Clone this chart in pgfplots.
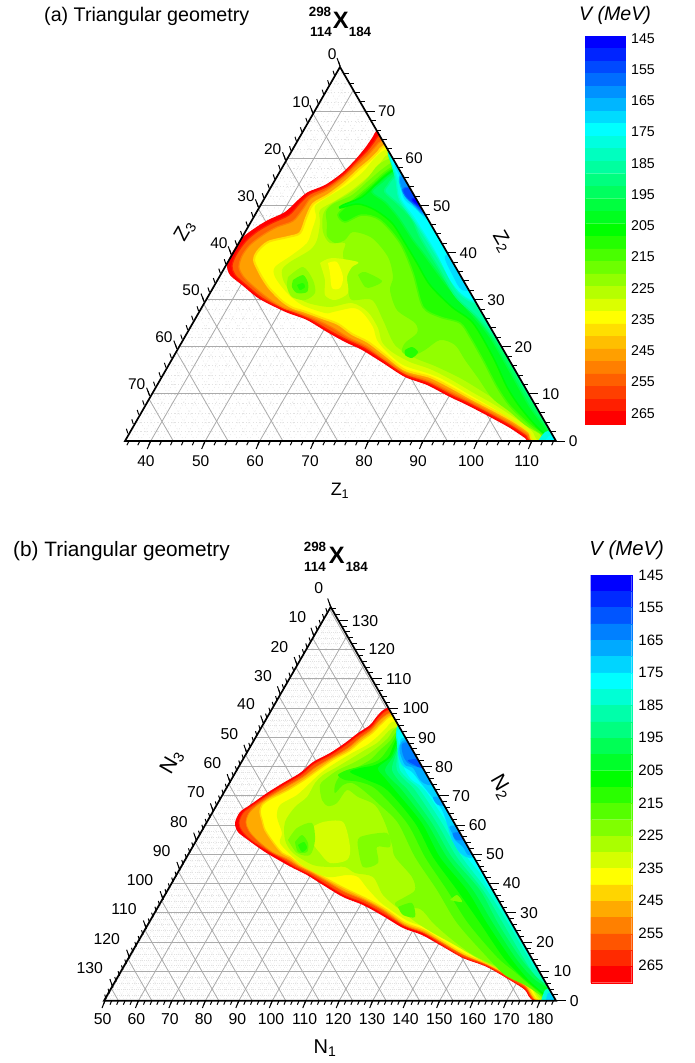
\documentclass[border=0pt]{standalone}
\usepackage{pgfplots}
\pgfplotsset{compat=1.18}
\usepackage{fontspec}
\setmainfont{Liberation Sans}
\newcommand\fs[1]{\fontsize{#1}{#1}\selectfont}
% ---- panel (a) palette, 31 levels
\definecolor{a145}{HTML}{0000FF}\definecolor{a149}{HTML}{0024FF}\definecolor{a153}{HTML}{0049FF}\definecolor{a157}{HTML}{006DFF}
\definecolor{a161}{HTML}{0092FF}\definecolor{a165}{HTML}{00B6FF}\definecolor{a169}{HTML}{00DBFF}\definecolor{a173}{HTML}{00FFFF}
\definecolor{a177}{HTML}{00FFDF}\definecolor{a181}{HTML}{00FFBF}\definecolor{a185}{HTML}{00FF9F}\definecolor{a189}{HTML}{00FF7F}
\definecolor{a193}{HTML}{00FF5F}\definecolor{a197}{HTML}{00FF3F}\definecolor{a201}{HTML}{00FF1F}\definecolor{a205}{HTML}{00FF00}
\definecolor{a209}{HTML}{24FF00}\definecolor{a213}{HTML}{49FF00}\definecolor{a217}{HTML}{6DFF00}\definecolor{a221}{HTML}{92FF00}
\definecolor{a225}{HTML}{B6FF00}\definecolor{a229}{HTML}{DBFF00}\definecolor{a233}{HTML}{FFFF00}\definecolor{a237}{HTML}{FFDF00}
\definecolor{a241}{HTML}{FFBF00}\definecolor{a245}{HTML}{FF9F00}\definecolor{a249}{HTML}{FF7F00}\definecolor{a253}{HTML}{FF5F00}
\definecolor{a257}{HTML}{FF3F00}\definecolor{a261}{HTML}{FF1F00}\definecolor{a265}{HTML}{FF0000}
% ---- panel (b) palette, 25 levels
\definecolor{b145}{HTML}{0000FF}\definecolor{b150}{HTML}{002AFF}\definecolor{b155}{HTML}{0055FF}\definecolor{b160}{HTML}{0080FF}
\definecolor{b165}{HTML}{00AAFF}\definecolor{b170}{HTML}{00D5FF}\definecolor{b175}{HTML}{00FFFF}\definecolor{b180}{HTML}{00FFD5}
\definecolor{b185}{HTML}{00FFAA}\definecolor{b190}{HTML}{00FF80}\definecolor{b195}{HTML}{00FF55}\definecolor{b200}{HTML}{00FF2A}
\definecolor{b205}{HTML}{00FF00}\definecolor{b210}{HTML}{2AFF00}\definecolor{b215}{HTML}{55FF00}\definecolor{b220}{HTML}{80FF00}
\definecolor{b225}{HTML}{AAFF00}\definecolor{b230}{HTML}{D5FF00}\definecolor{b235}{HTML}{FFFF00}\definecolor{b240}{HTML}{FFD500}
\definecolor{b245}{HTML}{FFAA00}\definecolor{b250}{HTML}{FF8000}\definecolor{b255}{HTML}{FF5500}\definecolor{b260}{HTML}{FF2A00}
\definecolor{b265}{HTML}{FF0000}
\definecolor{gridc}{HTML}{ABABAB}
\definecolor{finec}{HTML}{E2E2E2}
\newcommand\poly[4]{\addplot[smooth,tension=0.5,fill=#1,draw=#2,line width=#3,forget plot] coordinates {#4};}
\newcommand\cellA[3]{\addplot[fill=#1,draw=#1,line width=.25pt,forget plot] coordinates {(585,#2)(625,#2)(625,#3)(585,#3)(585,#2)};}
\newcommand\cellB[3]{\addplot[fill=#1,draw=#1,line width=.25pt,forget plot] coordinates {(590.7,#2)(631.7,#2)(631.7,#3)(590.7,#3)(590.7,#2)};}
\begin{document}
\begin{tikzpicture}
\path[use as bounding box] (0,0) rectangle (694pt,1063pt);
\begin{axis}[at={(0pt,0pt)},anchor=south west,width=694pt,height=1063pt,scale only axis,
  xmin=0,xmax=694,ymin=0,ymax=1063,y dir=reverse,hide axis,clip=false]
% ======== background lattices
\pgfplotsextra{
 \begin{scope}
 \clip (axis cs:340,67)--(axis cs:556,441)--(axis cs:125,441)--cycle;
 \foreach \j in {1,...,39}{
  \pgfmathsetmacro\y{441-9.42*\j}
  \draw[finec,line width=.4pt,dash pattern=on 1.2pt off 2.2pt] (axis cs:120,\y)--(axis cs:560,\y);}
 \foreach \j in {-5,...,38}{
  \pgfmathsetmacro\x{150.7+10.89*\j}
  \pgfmathsetmacro\xx{\x+216}
  \draw[finec,line width=.4pt,dash pattern=on 1.2pt off 2.2pt] (axis cs:\x,441)--(axis cs:\xx,67);
  \pgfmathsetmacro\x{173.3+10.89*\j}
  \pgfmathsetmacro\xx{\x-216}
  \draw[finec,line width=.4pt,dash pattern=on 1.2pt off 2.2pt] (axis cs:\x,441)--(axis cs:\xx,67);}
 \foreach \k in {1,...,7}{
  \pgfmathsetmacro\y{441-47.1*\k}
  \draw[gridc,line width=.9pt] (axis cs:120,\y)--(axis cs:560,\y);}
 \foreach \k in {0,...,7}{
  \pgfmathsetmacro\x{150.7+54.5*\k}
  \pgfmathsetmacro\xx{\x+216}
  \draw[gridc,line width=.8pt] (axis cs:\x,441)--(axis cs:\xx,67);
  \pgfmathsetmacro\x{173.3+54.8*\k}
  \pgfmathsetmacro\xx{\x-216}
  \draw[gridc,line width=.8pt] (axis cs:\x,441)--(axis cs:\xx,67);}
 \end{scope}
 \begin{scope}
 \clip (axis cs:330.7,607)--(axis cs:556,1000.7)--(axis cs:104,1000.7)--cycle;
 \foreach \j in {1,...,67}{
  \pgfmathsetmacro\y{1000.7-5.854*\j}
  \draw[finec,line width=.4pt,dash pattern=on .8pt off 1.3pt] (axis cs:100,\y)--(axis cs:560,\y);}
 \foreach \j in {-5,...,70}{
  \pgfmathsetmacro\x{105+6.692*\j}
  \pgfmathsetmacro\xx{\x+225}
  \draw[finec,line width=.4pt,dash pattern=on .8pt off 1.3pt] (axis cs:\x,1000.7)--(axis cs:\xx,607);
  \pgfmathsetmacro\x{118.4+6.692*\j}
  \pgfmathsetmacro\xx{\x-225}
  \draw[finec,line width=.4pt,dash pattern=on .8pt off 1.3pt] (axis cs:\x,1000.7)--(axis cs:\xx,607);}
 \foreach \k in {1,...,12}{
  \pgfmathsetmacro\y{1000.7-29.27*\k}
  \draw[gridc,line width=.9pt] (axis cs:100,\y)--(axis cs:560,\y);}
 \foreach \k in {0,...,13}{
  \pgfmathsetmacro\x{105+33.46*\k}
  \pgfmathsetmacro\xx{\x+225}
  \draw[gridc,line width=.8pt] (axis cs:\x,1000.7)--(axis cs:\xx,607);
  \pgfmathsetmacro\x{118.4+33.46*\k}
  \pgfmathsetmacro\xx{\x-225}
  \draw[gridc,line width=.8pt] (axis cs:\x,1000.7)--(axis cs:\xx,607);}
 \end{scope}
}
% ======== panel (a) filled levels
\poly{a265}{none}{0pt}{(395,130)(378,130)(372,138)(365,148)(355,160)(342,173)(325,185)(308,192)(298,200)(285,212)(268,220)(255,228)(242,238)(232,253)(227,265)(230,275)(242,285)(258,298)(275,307)(288,313)(307,320)(327,332)(345,342)(362,350)(383,363)(405,377)(427,385)(450,397)(467,405)(490,417)(510,428)(525,438)(531,441)(575,441)}
\poly{a253}{a261}{1.2pt}{(398,135)(380,135)(374,142)(367,151)(356,162)(343,175)(326,187)(310,194)(300,203)(289,215)(272,223)(258,231)(246,241)(236,255)(232,266)(235,275)(246,285)(262,298)(279,307)(292,312)(311,320)(330,331)(347,340)(364,348)(384,361)(405,375)(428,383)(451,395)(468,403)(491,415)(511,426)(526,436)(532,441)(575,441)}
\poly{a245}{a249}{1.2pt}{(400,141)(382,141)(376,146)(368,155)(357,165)(343,178)(327,190)(311,198)(303,209)(293,221)(277,227)(263,235)(250,245)(242,256)(239,267)(243,276)(253,286)(269,299)(284,308)(296,312)(315,319)(333,328)(349,338)(366,346)(384,359)(405,373)(429,381)(451,392)(469,401)(492,413)(512,424)(528,435)(534,441)(575,441)}
\poly{a233}{a237}{2pt}{(402,146)(384,146)(378,152)(370,160)(358,170)(344,183)(328,195)(313,204)(306,218)(300,233)(288,237)(268,242)(257,252)(254,260)(258,270)(263,279)(270,289)(282,301)(293,308)(303,311)(322,318)(338,324)(352,334)(368,342)(385,355)(405,370)(430,377)(452,388)(470,398)(493,410)(513,421)(529,432)(535,441)(575,441)}
\poly{a229}{none}{0pt}{(405,150)(385,150)(373,160)(363,172)(347,185)(328,197)(315,206)(316,217)(312,230)(307,243)(292,255)(275,267)(275,277)(287,293)(302,305)(325,313)(333,312)(353,308)(363,313)(373,327)(377,340)(387,352)(403,365)(427,373)(440,378)(453,385)(470,395)(493,408)(517,423)(530,433)(536,441)(575,441)}
\poly{a225}{none}{0pt}{(408,160)(388,155)(381,162)(370,175)(352,190)(335,201)(320,210)(320,223)(317,240)(310,250)(290,262)(282,270)(284,282)(294,295)(308,303)(330,307)(352,303)(368,312)(378,328)(382,342)(392,352)(410,362)(430,369)(450,379)(472,392)(495,405)(518,420)(532,431)(540,441)(575,441)}
\poly{a221}{none}{0pt}{(410,160)(392,158)(378,165)(366,180)(350,193)(330,205)(323,215)(323,232)(330,243)(345,243)(343,253)(345,270)(348,290)(352,300)(372,300)(383,320)(395,345)(415,358)(435,366)(460,378)(480,390)(505,406)(525,422)(540,433)(545,441)(575,441)}
\poly{a217}{none}{0pt}{(412,165)(394,162)(381,170)(367,182)(352,195)(333,204)(326,212)(327,224)(327,236)(335,243)(345,240)(353,232)(372,238)(388,257)(393,277)(390,290)(397,310)(415,323)(417,333)(405,343)(402,352)(412,356)(425,350)(440,340)(455,345)(465,360)(478,378)(492,398)(510,412)(525,425)(540,434)(548,441)(575,441)}
\poly{a209}{a213}{1.5pt}{(414,168)(396,166)(384,173)(373,183)(358,196)(345,207)(338,215)(345,222)(362,215)(380,220)(400,243)(413,273)(423,307)(440,317)(460,323)(470,337)(483,360)(497,387)(510,406)(530,425)(547,437)(551,441)(575,441)}
\poly{a201}{a205}{1.5pt}{(415,170)(398,168)(385,176)(375,185)(362,197)(343,205)(340,208)(358,204)(375,210)(392,223)(405,243)(417,263)(430,285)(452,307)(473,323)(493,357)(507,387)(520,407)(537,427)(551,438)(575,441)}
\poly{a193}{a197}{1.5pt}{(418,172)(400,170)(390,175)(382,182)(372,192)(385,202)(398,217)(413,240)(423,253)(445,283)(468,310)(490,337)(513,377)(530,407)(545,427)(553,437)(575,441)}
\poly{a185}{a189}{1.5pt}{(420,172)(402,170)(393,178)(388,185)(385,192)(398,204)(412,219)(420,237)(438,267)(456,297)(480,320)(505,353)(523,387)(540,413)(550,428)(554,437)(575,441)}
\poly{a177}{a181}{1.2pt}{(412,150)(389,150)(392,165)(396,180)(398,195)(402,204)(413,219)(428,242)(445,270)(458,292)(472,302)(490,305)(495,305)}
\poly{a173}{none}{0pt}{(412,153)(391,157)(396,172)(400,185)(402,200)(415,218)(435,250)(450,280)(462,294)(477,302)(495,302)}
\poly{a169}{none}{0pt}{(420,160)(395,163)(399,175)(401,190)(405,200)(415,208)(425,218)(432,222)(440,222)}
\poly{a169}{none}{0pt}{(465,254)(445,256)(453,276)(462,290)(480,290)}
\poly{a161}{a165}{1pt}{(430,175)(401,175)(402,190)(412,203)(424,215)(440,215)}
\poly{a153}{a157}{1pt}{(430,185)(404,188)(406,197)(416,206)(425,213)(440,213)}
\poly{a145}{a149}{1pt}{(430,195)(412,199)(420,207)(427,212)(440,212)}
\poly{a177}{none}{0pt}{(538,441)(545,432)(551,432)(565,441)}
\poly{a173}{none}{0pt}{(545,441)(549,436)(553,436)(565,441)}
% islands (a)
\poly{a229}{none}{0pt}{(320,263)(332,258)(358,262)(352,267)(347,277)(348,293)(335,300)(325,295)(325,280)(320,263)}
\poly{a233}{none}{0pt}{(328,263)(337,262)(343,277)(340,288)(332,288)(330,273)(328,263)}
\poly{a221}{none}{0pt}{(288,277)(303,267)(313,280)(315,293)(305,300)(292,297)(287,287)(288,277)}
\poly{a213}{none}{0pt}{(293,280)(303,275)(308,283)(307,292)(297,293)(292,287)(293,280)}
\poly{a209}{none}{0pt}{(297,285)(303,283)(305,287)(300,290)(297,285)}
\poly{a217}{none}{0pt}{(358,275)(365,272)(382,281)(372,287)(365,287)(358,275)}
\poly{a209}{none}{0pt}{(405,350)(412,347)(418,352)(412,358)(405,355)(405,350)}
% ======== panel (b) filled levels
\poly{b265}{none}{0pt}{(405,708)(387,708)(378,715)(370,725)(358,733)(345,743)(330,753)(313,762)(300,773)(283,783)(267,793)(250,805)(240,812)(235,823)(238,832)(248,840)(265,852)(282,862)(293,868)(307,875)(323,885)(343,897)(363,905)(383,916)(403,928)(422,935)(440,945)(463,958)(487,967)(513,982)(525,990)(535,1001)(575,1001)}
\poly{b255}{b260}{.8pt}{(405,710)(388,710)(379,717)(371,727)(359,735)(346,745)(331,755)(314,764)(301,775)(284,785)(268,795)(252,806)(243,813)(239,823)(242,831)(251,840)(268,851)(284,860)(295,867)(309,874)(324,883)(344,895)(364,903)(384,914)(404,926)(423,933)(441,944)(463,957)(487,966)(513,981)(526,989)(536,1001)(575,1001)}
\poly{b245}{b250}{.8pt}{(405,713)(390,713)(380,720)(371,730)(360,738)(348,748)(333,757)(316,767)(303,777)(286,787)(269,797)(256,806)(249,813)(246,822)(249,831)(258,841)(272,852)(287,859)(298,866)(310,872)(326,881)(345,892)(364,900)(384,911)(404,925)(423,932)(441,942)(464,955)(488,965)(514,979)(526,987)(538,1001)(575,1001)}
\poly{b235}{b240}{1.4pt}{(408,716)(391,716)(381,724)(372,733)(361,741)(349,751)(334,759)(318,770)(304,780)(288,790)(270,799)(262,805)(260,812)(262,820)(265,830)(273,842)(282,853)(290,857)(300,865)(312,871)(327,879)(346,889)(365,898)(385,909)(405,923)(424,930)(442,941)(464,954)(488,964)(514,978)(527,986)(539,1001)(575,1001)}
\poly{b230}{none}{0pt}{(410,720)(392,722)(387,727)(377,737)(367,745)(352,753)(337,762)(322,772)(310,783)(297,795)(280,805)(277,817)(282,833)(280,843)(293,857)(305,867)(327,877)(347,875)(358,877)(367,888)(380,902)(388,908)(408,921)(427,928)(445,939)(467,951)(490,962)(516,976)(530,985)(541,1001)(575,1001)}
\poly{b225}{none}{0pt}{(412,725)(393,728)(385,735)(377,743)(365,750)(352,758)(337,767)(323,775)(315,783)(307,797)(295,807)(285,822)(285,840)(293,853)(313,865)(330,867)(345,867)(355,873)(373,877)(383,895)(400,910)(417,923)(433,933)(453,944)(477,958)(497,968)(517,978)(532,988)(544,1001)(575,1001)}
\poly{b220}{none}{0pt}{(415,728)(396,728)(388,738)(378,747)(367,755)(353,763)(338,770)(328,777)(320,785)(322,800)(328,806)(337,803)(347,790)(358,797)(375,805)(385,823)(392,845)(395,857)(412,877)(415,890)(405,897)(395,903)(400,908)(420,909)(433,923)(450,938)(473,955)(500,968)(522,980)(535,990)(547,1001)(575,1001)}
\poly{b215}{none}{0pt}{(415,731)(398,731)(390,741)(380,750)(370,760)(352,770)(340,776)(335,785)(335,793)(343,785)(352,783)(363,790)(380,805)(398,823)(415,857)(437,890)(457,923)(487,957)(505,975)(525,985)(540,995)(550,1001)(575,1001)}
\poly{b210}{none}{0pt}{(416,733)(399,733)(392,743)(382,757)(375,762)(362,766)(347,770)(338,775)(345,780)(360,782)(377,790)(407,823)(425,857)(447,890)(468,923)(497,957)(515,972)(530,985)(552,1001)(575,1001)}
\poly{b205}{none}{0pt}{(418,735)(400,735)(394,744)(388,757)(375,765)(360,768)(350,772)(367,780)(387,790)(415,823)(433,857)(457,890)(480,923)(503,957)(520,975)(535,988)(553,1001)(575,1001)}
\poly{b200}{none}{0pt}{(418,735)(401,735)(396,745)(391,757)(378,768)(385,778)(395,790)(422,823)(440,857)(467,890)(487,923)(510,957)(527,978)(540,990)(556,1001)(575,1001)}
\poly{b195}{none}{0pt}{(420,735)(402,735)(398,745)(393,757)(385,770)(392,780)(402,790)(427,823)(447,857)(473,890)(493,923)(515,957)(530,975)(543,985)(575,1001)}
\poly{b190}{none}{0pt}{(420,735)(403,735)(399,745)(395,757)(392,770)(400,782)(408,790)(432,823)(452,857)(480,890)(498,923)(520,957)(535,975)(545,982)(575,995)}
\poly{b185}{none}{0pt}{(420,733)(404,733)(400,745)(397,757)(397,770)(405,780)(415,790)(437,823)(457,857)(483,890)(503,923)(523,957)(535,975)(548,985)(575,990)}
\poly{b180}{none}{0pt}{(418,725)(399,725)(396,733)(397,745)(398,757)(400,770)(409,780)(420,790)(442,823)(462,857)(487,890)(508,923)(528,957)(536,970)(560,970)}
\poly{b175}{none}{0pt}{(418,728)(398,730)(399,745)(401,757)(405,770)(412,780)(425,790)(447,823)(467,857)(480,873)(491,890)(510,890)}
\poly{b170}{none}{0pt}{(425,740)(403,738)(400,743)(398,753)(402,765)(412,772)(420,782)(432,797)(442,810)(448,827)(452,840)(460,853)(470,858)(490,858)}
\poly{b165}{none}{0pt}{(425,740)(405,740)(400,745)(400,753)(405,765)(413,768)(420,780)(428,785)(445,785)}
\poly{b165}{none}{0pt}{(445,797)(433,797)(438,805)(450,806)}
\poly{b165}{none}{0pt}{(465,826)(450,826)(452,833)(455,840)(463,847)(468,855)(478,855)}
\poly{b160}{none}{0pt}{(425,743)(403,743)(403,755)(408,763)(418,767)(430,767)}
\poly{b155}{none}{0pt}{(430,758)(408,760)(415,765)(421,768)(435,768)}
\poly{b160}{none}{0pt}{(465,832)(453,833)(456,840)(462,840)(470,840)}
\poly{b180}{none}{0pt}{(541,1001)(545,990)(550,990)(565,1001)}
\poly{b170}{none}{0pt}{(546,1000)(548,993)(552,994)(560,1000)}
% islands (b)
\poly{b230}{none}{0pt}{(323,822)(343,822)(350,847)(347,860)(330,863)(320,853)(313,843)(312,828)(323,822)}
\poly{b220}{none}{0pt}{(288,840)(297,828)(312,823)(315,840)(310,855)(297,853)(288,840)}
\poly{b215}{none}{0pt}{(295,842)(302,835)(308,843)(307,852)(298,852)(295,842)}
\poly{b210}{none}{0pt}{(298,845)(304,842)(307,848)(302,852)(298,845)}
\poly{b220}{none}{0pt}{(358,847)(360,837)(387,833)(390,847)(377,847)(378,863)(363,867)(358,847)}
\poly{b220}{none}{0pt}{(450,900)(457,895)(462,902)(450,900)}
\poly{b215}{none}{0pt}{(398,907)(412,903)(415,917)(403,915)(398,907)}
% ======== masks outside the right edges
\addplot[fill=white,draw=none,forget plot] coordinates {(340,66)(556,441)(500,441)(500,449)(582,449)(582,58)(340,58)(340,66)};
\addplot[fill=white,draw=none,forget plot] coordinates {(330.7,606)(556,1000.7)(480,1000.7)(480,1008)(588,1008)(588,600)(330.7,600)(330.7,606)};
% ======== colour bars
\cellA{a145}{36}{48.5}\cellA{a149}{48.5}{61}\cellA{a153}{61}{73.5}\cellA{a157}{73.5}{86}\cellA{a161}{86}{98.6}\cellA{a165}{98.6}{111.1}
\cellA{a169}{111.1}{123.6}\cellA{a173}{123.6}{136.1}\cellA{a177}{136.1}{148.6}\cellA{a181}{148.6}{161.2}\cellA{a185}{161.2}{173.7}
\cellA{a189}{173.7}{186.2}\cellA{a193}{186.2}{198.7}\cellA{a197}{198.7}{211.2}\cellA{a201}{211.2}{223.7}\cellA{a205}{223.7}{236.3}
\cellA{a209}{236.3}{248.8}\cellA{a213}{248.8}{261.3}\cellA{a217}{261.3}{273.8}\cellA{a221}{273.8}{286.3}\cellA{a225}{286.3}{298.8}
\cellA{a229}{298.8}{311.4}\cellA{a233}{311.4}{323.9}\cellA{a237}{323.9}{336.4}\cellA{a241}{336.4}{348.9}\cellA{a245}{348.9}{361.4}
\cellA{a249}{361.4}{373.9}\cellA{a253}{373.9}{386.4}\cellA{a257}{386.4}{399}\cellA{a261}{399}{411.5}\cellA{a265}{411.5}{424}
\cellB{b145}{575}{591.3}\cellB{b150}{591.3}{607.6}\cellB{b155}{607.6}{623.9}\cellB{b160}{623.9}{640.2}\cellB{b165}{640.2}{656.6}
\cellB{b170}{656.6}{672.9}\cellB{b175}{672.9}{689.2}\cellB{b180}{689.2}{705.5}\cellB{b185}{705.5}{721.8}\cellB{b190}{721.8}{738.1}
\cellB{b195}{738.1}{754.4}\cellB{b200}{754.4}{770.7}\cellB{b205}{770.7}{787}\cellB{b210}{787}{803.3}\cellB{b215}{803.3}{819.7}
\cellB{b220}{819.7}{836}\cellB{b225}{836}{852.3}\cellB{b230}{852.3}{868.6}\cellB{b235}{868.6}{884.9}\cellB{b240}{884.9}{901.2}
\cellB{b245}{901.2}{917.5}\cellB{b250}{917.5}{933.8}\cellB{b255}{933.8}{950.1}\cellB{b260}{950.1}{966.4}\cellB{b265}{966.4}{982.7}
% ======== triangle frames, ticks and texts
\pgfplotsextra{
 % panel (a)
 \draw[black,line width=1.7pt,line join=miter] (axis cs:340,67)--(axis cs:556,441)--(axis cs:125,441)--cycle;
 \foreach \k in {0,2,...,78}{
  \pgfmathsetmacro\y{441-4.71*\k}\pgfmathsetmacro\x{556-0.5775*4.71*\k}\pgfmathsetmacro\xx{\x+5}
  \draw[black,line width=1pt] (axis cs:\x,\y)--(axis cs:\xx,\y);}
 \foreach \k in {0,10,...,70}{
  \pgfmathsetmacro\y{441-4.71*\k}\pgfmathsetmacro\x{556-0.5775*4.71*\k}\pgfmathsetmacro\xx{\x+9}
  \draw[black,line width=1pt] (axis cs:\x,\y)--(axis cs:\xx,\y);}
 \foreach \k in {0,2,...,78}{
  \pgfmathsetmacro\y{66+4.71*\k}\pgfmathsetmacro\x{340-0.5775*4.71*\k}\pgfmathsetmacro\xx{\x-1.5}\pgfmathsetmacro\yy{\y-4.6}
  \draw[black,line width=1pt] (axis cs:\x,\y)--(axis cs:\xx,\yy);}
 \foreach \k in {0,10,...,70}{
  \pgfmathsetmacro\y{66+4.71*\k}\pgfmathsetmacro\x{340-0.5775*4.71*\k}\pgfmathsetmacro\xx{\x-3}\pgfmathsetmacro\yy{\y-8}
  \draw[black,line width=1pt] (axis cs:\x,\y)--(axis cs:\xx,\yy);}
 \foreach \k in {36,38,...,114}{
  \pgfmathsetmacro\x{150.7+5.445*(\k-40)}\pgfmathsetmacro\xx{\x-2}
  \draw[black,line width=1pt] (axis cs:\x,441)--(axis cs:\xx,445.2);}
 \foreach \k in {40,50,...,110}{
  \pgfmathsetmacro\x{150.7+5.445*(\k-40)}\pgfmathsetmacro\xx{\x-3.5}
  \draw[black,line width=1pt] (axis cs:\x,441)--(axis cs:\xx,449);}
 % panel (b)
 \draw[black,line width=1.7pt,line join=miter] (axis cs:330.7,607)--(axis cs:556,1000.7)--(axis cs:104,1000.7)--cycle;
 \foreach \k in {0,2,...,134}{
  \pgfmathsetmacro\y{1000.7-2.927*\k}\pgfmathsetmacro\x{556-0.5724*2.927*\k}\pgfmathsetmacro\xx{\x+5}
  \draw[black,line width=1pt] (axis cs:\x,\y)--(axis cs:\xx,\y);}
 \foreach \k in {0,10,...,130}{
  \pgfmathsetmacro\y{1000.7-2.927*\k}\pgfmathsetmacro\x{556-0.5724*2.927*\k}\pgfmathsetmacro\xx{\x+10}
  \draw[black,line width=1pt] (axis cs:\x,\y)--(axis cs:\xx,\y);}
 \foreach \k in {0,2,...,134}{
  \pgfmathsetmacro\y{607+2.927*\k}\pgfmathsetmacro\x{330.7-0.5724*2.927*\k}\pgfmathsetmacro\xx{\x-1.5}\pgfmathsetmacro\yy{\y-4.6}
  \draw[black,line width=1pt] (axis cs:\x,\y)--(axis cs:\xx,\yy);}
 \foreach \k in {0,10,...,130}{
  \pgfmathsetmacro\y{607+2.927*\k}\pgfmathsetmacro\x{330.7-0.5724*2.927*\k}\pgfmathsetmacro\xx{\x-3}\pgfmathsetmacro\yy{\y-8.5}
  \draw[black,line width=1pt] (axis cs:\x,\y)--(axis cs:\xx,\yy);}
 \foreach \k in {50,52,...,184}{
  \pgfmathsetmacro\x{105+3.346*(\k-50)}\pgfmathsetmacro\xx{\x-1.7}
  \draw[black,line width=1pt] (axis cs:\x,1000.7)--(axis cs:\xx,1004.7);}
 \foreach \k in {50,60,...,180}{
  \pgfmathsetmacro\x{105+3.346*(\k-50)}\pgfmathsetmacro\xx{\x-3}
  \draw[black,line width=1pt] (axis cs:\x,1000.7)--(axis cs:\xx,1008);}
 % tick numbers (a)
 \foreach \x/\y/\t in {332.3/54.3/0,301/101.7/10,272.7/149/20,246/196/30,219/243.3/40,191/290/50,164/337.3/60,136.7/384.3/70,
   386.7/111/70,414/158.3/60,441.7/205.7/50,468.3/252.7/40,496/300/30,523.3/347.3/20,550.7/394.3/10,573.3/441/0,
   146/460.7/40,200.7/460.7/50,255/460.7/60,310/460.7/70,364/460.7/80,418/460.7/90,471/460.7/100,526.7/460.7/110}
  {\node[inner sep=0pt,font=\fs{15.5}] at (axis cs:\x,\y) {\t};}
 % tick numbers (b)
 \foreach \x/\y/\t in {318.7/588/0,297.3/617.3/10,279.3/646.7/20,263/675.7/30,246/704/40,229.3/734/50,212.3/763/60,196/792/70,179/821.7/80,161.7/850.7/90,140/880/100,124/909/110,106.7/939/120,89.7/968/130,
   365/620.7/130,381.7/649.4/120,398.7/678.7/110,415.7/708/100,427/737.7/90,444/766.7/80,461/796/70,477.7/825/60,495/854.3/50,511.7/883.3/40,529/912.7/30,545/942/20,562.3/971/10,574.3/1000.7/0,
   102.7/1019/50,136.4/1019/60,170/1019/70,203.7/1019/80,237.3/1019/90,271/1019/100,304.6/1019/110,338.3/1019/120,372/1019/130,405.6/1019/140,439.2/1019/150,472.9/1019/160,506.5/1019/170,540.2/1019/180}
  {\node[inner sep=0pt,font=\fs{15.8}] at (axis cs:\x,\y) {\t};}
 % colour bar numbers
 \foreach \y/\t in {38.3/145,69.5/155,100.8/165,132/175,163.3/185,194.5/195,225.8/205,257/215,288.3/225,319.5/235,350.8/245,382/255,413.3/265}
  {\node[inner sep=0pt,font=\fs{14.2}] at (axis cs:643,\y) {\t};}
 \foreach \y/\t in {575/145,607.6/155,640.1/165,672.7/175,705.2/185,737.8/195,770.4/205,802.9/215,835.5/225,868/235,900.6/245,933.1/255,965.7/265}
  {\node[inner sep=0pt,font=\fs{15}] at (axis cs:651,\y) {\t};}
 % titles
 \node[inner sep=0pt,anchor=base west,font=\fs{19.7}] at (axis cs:44,21.7) {(a) Triangular geometry};
 \node[inner sep=0pt,anchor=base west,font=\fs{20.8}] at (axis cs:13,556) {(b) Triangular geometry};
 \node[inner sep=0pt,font=\fs{19.6}\itshape] at (axis cs:615,15) {V (MeV)};
 \node[inner sep=0pt,font=\fs{20.3}\itshape] at (axis cs:626.7,550) {V (MeV)};
 % nuclide labels
 \node[inner sep=0pt,font=\fs{13.4}\bfseries] at (axis cs:320,12) {298};
 \node[inner sep=0pt,font=\fs{13.4}\bfseries] at (axis cs:321,32) {114};
 \node[inner sep=0pt,font=\fs{23.7}\bfseries] at (axis cs:340.7,20) {X};
 \node[inner sep=0pt,font=\fs{13.4}\bfseries] at (axis cs:360,32) {184};
 \node[inner sep=0pt,font=\fs{13.4}\bfseries] at (axis cs:315,546.7) {298};
 \node[inner sep=0pt,font=\fs{13.4}\bfseries] at (axis cs:315,567.3) {114};
 \node[inner sep=0pt,font=\fs{23.7}\bfseries] at (axis cs:336.7,555) {X};
 \node[inner sep=0pt,font=\fs{13.4}\bfseries] at (axis cs:356.7,567.3) {184};
 % axis titles
 \node[inner sep=0pt,font=\fs{20},rotate=60] at (axis cs:185,231) {Z\textsubscript{3}};
 \node[inner sep=0pt,font=\fs{20},rotate=-60] at (axis cs:502,242) {Z\textsubscript{2}};
 \node[inner sep=0pt,font=\fs{18}] at (axis cs:340,491) {Z\textsubscript{1}};
 \node[inner sep=0pt,font=\fs{21},rotate=60] at (axis cs:172,762) {N\textsubscript{3}};
 \node[inner sep=0pt,font=\fs{21},rotate=-60] at (axis cs:501,787) {N\textsubscript{2}};
 \node[inner sep=0pt,font=\fs{20}] at (axis cs:325,1048) {N\textsubscript{1}};
}
\end{axis}
\end{tikzpicture}
\end{document}
